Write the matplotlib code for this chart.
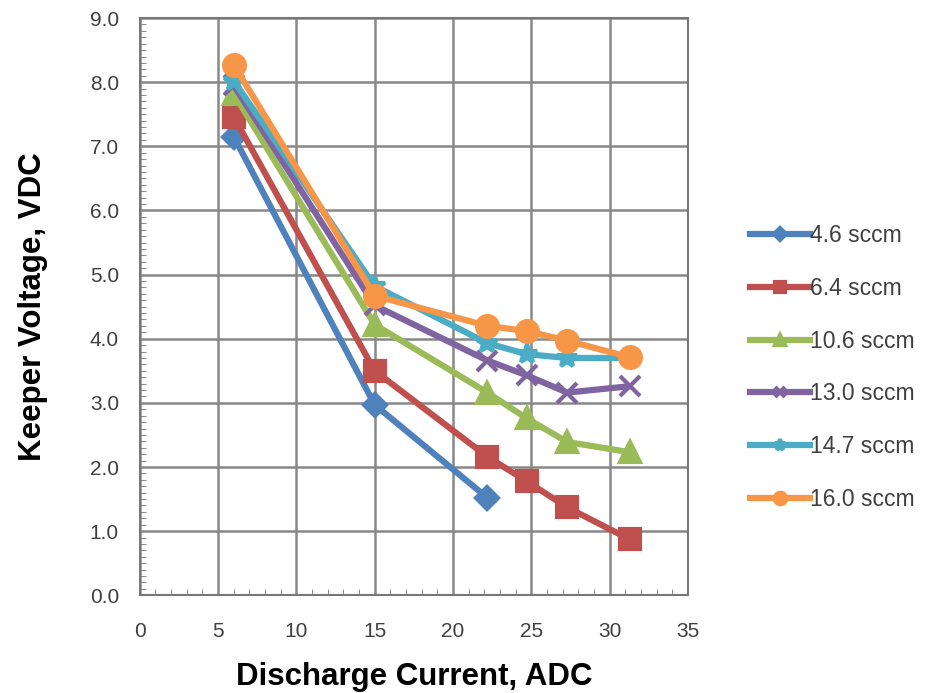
import numpy as np
import matplotlib
matplotlib.use("Agg")
import matplotlib.pyplot as plt
from matplotlib.ticker import MultipleLocator

plt.rcParams['font.family'] = ['Liberation Sans', 'DejaVu Sans']

# discharge current (ADC) per series
x_46 = [6.0, 15.0, 22.2]
x_all = [6.0, 15.0, 22.2, 24.7, 27.3, 31.3]

# keeper voltage (VDC)
v_46 = [7.15, 2.97, 1.52]
v_64 = [7.46, 3.50, 2.16, 1.78, 1.37, 0.87]
v_106 = [7.82, 4.22, 3.16, 2.76, 2.39, 2.23]
v_130 = [7.95, 4.52, 3.66, 3.43, 3.16, 3.26]
v_147 = [8.02, 4.82, 3.93, 3.76, 3.70, 3.70]
v_160 = [8.27, 4.67, 4.20, 4.12, 3.97, 3.71]

labels = ["4.6 sccm", "6.4 sccm", "10.6 sccm", "13.0 sccm", "14.7 sccm", "16.0 sccm"]
colors = ["#4F81BD", "#C0504D", "#9BBB59", "#8064A2", "#4BACC6", "#F79646"]
markers = ["D", "s", "^", "x", "*", "o"]
sizes = [11, 14, 14, 14, 15, 15]

fig = plt.figure(figsize=(9.32, 6.93), dpi=100)
ax = fig.add_axes([0.150, 0.141, 0.588, 0.833])

series = [(x_46, v_46), (x_all, v_64), (x_all, v_106),
          (x_all, v_130), (x_all, v_147), (x_all, v_160)]
for (xs, ys), lab, c, m, ms in zip(series, labels, colors, markers, sizes):
    ax.plot(xs, ys, color=c, lw=4.5, marker=m, ms=ms, mew=3,
            mfc=c, mec=c, label=lab, zorder=3)

ax.set_xlim(0, 35)
ax.set_ylim(0, 9)
ax.xaxis.set_major_locator(MultipleLocator(5))
ax.xaxis.set_minor_locator(MultipleLocator(1))
ax.yaxis.set_major_locator(MultipleLocator(1))
ax.yaxis.set_minor_locator(MultipleLocator(0.1))
ax.yaxis.set_major_formatter(matplotlib.ticker.FormatStrFormatter("%.1f"))
ax.grid(True, which="major", color="#888888", lw=1.8)
ax.tick_params(which="both", direction="in", colors="#777777", labelcolor="#404040",
               labelsize=15)
ax.tick_params(axis="y", which="major", length=0, pad=15)
ax.tick_params(axis="x", which="major", length=0, pad=19)
ax.tick_params(which="minor", length=4)
for s in ax.spines.values():
    s.set_color("#777777")
    s.set_linewidth(1.5)

ax.set_xlabel("Discharge Current, ADC", fontsize=22.5, fontweight="bold", labelpad=15)
ax.set_ylabel("Keeper Voltage, VDC", fontsize=22.5, fontweight="bold", labelpad=30)

leg = fig.legend(loc="upper left", bbox_to_anchor=(0.795, 0.69), frameon=False,
                 fontsize=16.5, handlelength=2.6, handletextpad=0.0,
                 labelspacing=1.3, markerscale=0.55, borderaxespad=0)
for t in leg.get_texts():
    t.set_color("#404040")

fig.savefig("out.png", dpi=100)
